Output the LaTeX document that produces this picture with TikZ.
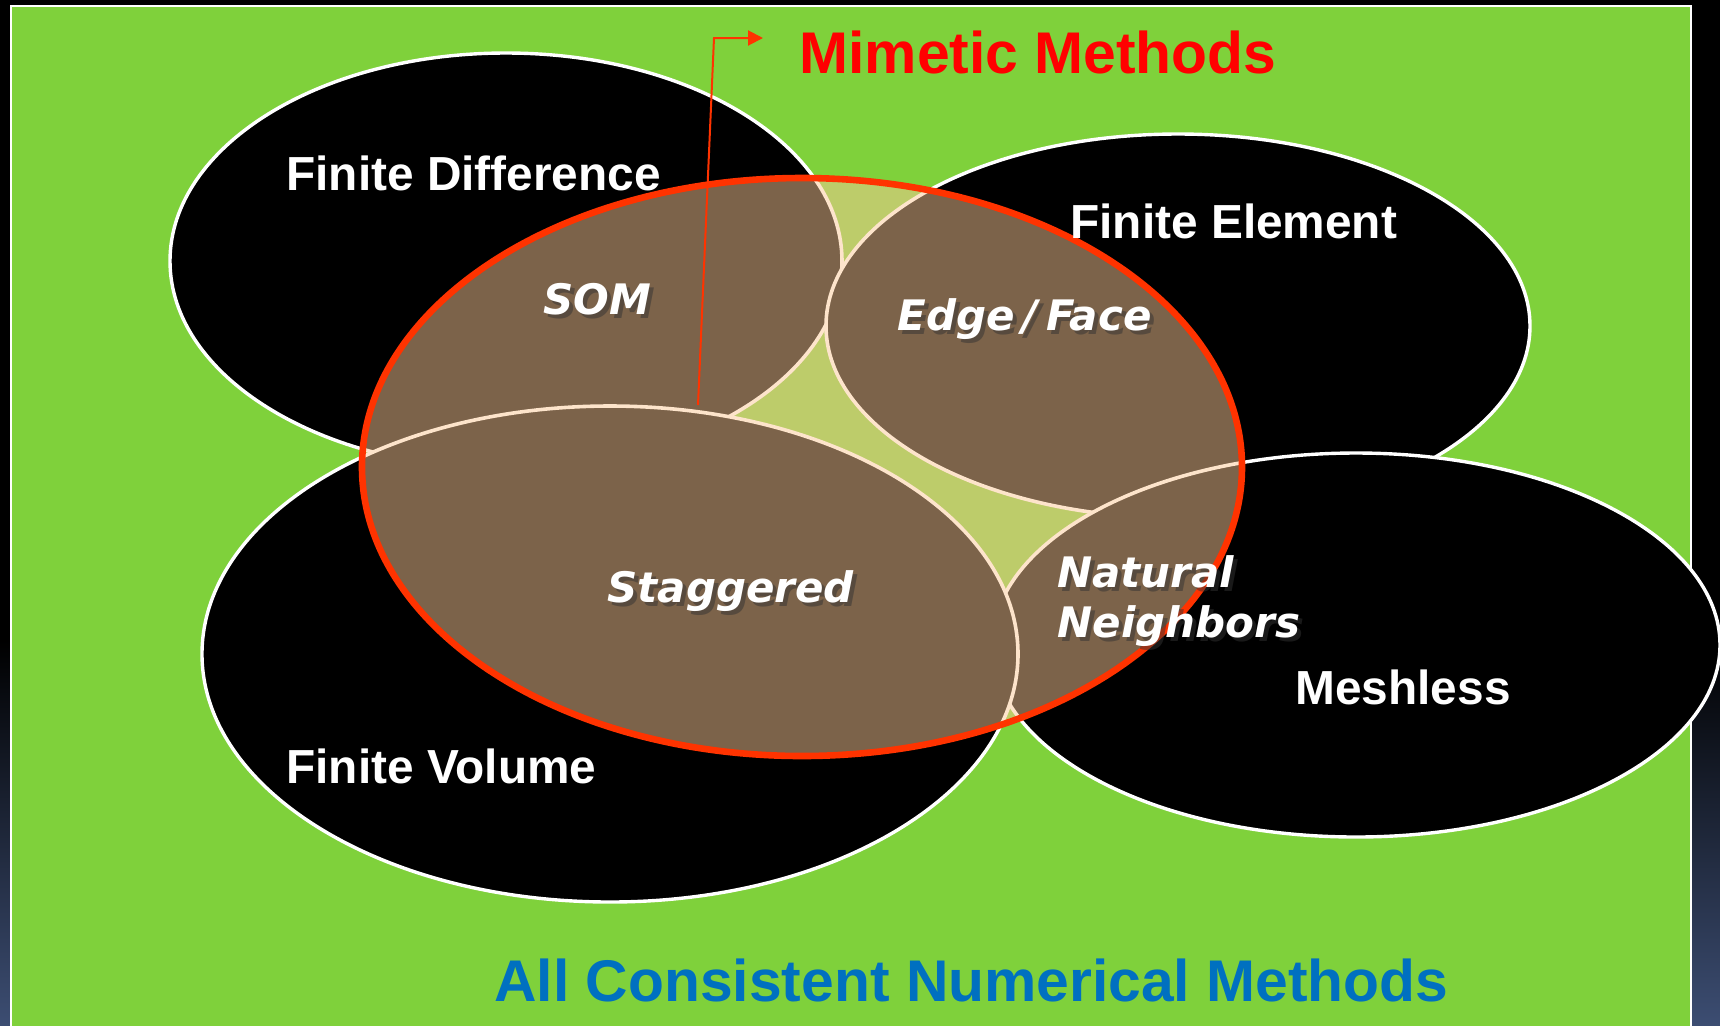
\documentclass[tikz,border=0pt]{standalone}
\usepackage{fontspec}
\setmainfont{Liberation Sans}
\newfontfamily\vfont{DejaVu Sans}
\usetikzlibrary{arrows.meta}
\definecolor{bggreen}{HTML}{7FD13B}
\definecolor{lightgreen}{HTML}{BDCC6A}
\definecolor{brownfill}{HTML}{7C634A}
\definecolor{creamline}{HTML}{FDE4CB}
\definecolor{mimred}{HTML}{FF3300}
\definecolor{titlered}{HTML}{FF0000}
\definecolor{titleblue}{HTML}{0070C0}
\definecolor{navy}{HTML}{3C4D72}
\begin{document}
\begin{tikzpicture}[x=0.5pt,y=-0.5pt,
  blackell/.style={fill=black, draw=white, line width=1.7pt},
  brownell/.style={fill=brownfill, draw=creamline, line width=1.8pt},
  biglabel/.style={font=\bfseries\fontsize{23.9}{28}\selectfont, text=white, anchor=base west, inner sep=0pt},
  titlelabel/.style={font=\bfseries\fontsize{29.4}{34}\selectfont, anchor=base west, inner sep=0pt},
  ilabel/.style={font=\vfont\bfseries\itshape\fontsize{21}{25}\selectfont, text=white, anchor=base west, inner sep=0pt},
  ishadow/.style={font=\vfont\bfseries\itshape\fontsize{21}{25}\selectfont, text=black!80, opacity=0.5, anchor=base west, inner sep=0pt},
  pointer/.style={draw=mimred, line width=1pt, -{Triangle[length=7.5pt, width=7.5pt]}}
]
\useasboundingbox (0,0) rectangle (1720,1025);
\clip (0,0) rectangle (1720,1025);
% background
\fill[black] (0,0) rectangle (1720,1025);
\shade[top color=black, bottom color=navy] (0,640) rectangle (1720,1025);
\filldraw[fill=bggreen, draw=white, line width=1pt] (10.5,5.5) rectangle (1690.5,1040);
% black ellipses (FD, FE, Meshless, FV)
\foreach \cx/\cy/\rx/\ry in {506/261/336/208, 1178/326/352/192, 1356/645/364/192, 610/654/408/248}{
  \path[blackell] (\cx,\cy) ellipse [x radius=\rx, y radius=\ry];
}
% mimetic region
\fill[lightgreen] (802,467) ellipse [x radius=440, y radius=289];
\begin{scope}
  \clip (802,467) ellipse [x radius=440, y radius=289];
  \foreach \cx/\cy/\rx/\ry in {506/261/336/208, 1178/326/352/192, 1356/645/364/192, 610/654/408/248}{
    \path[brownell] (\cx,\cy) ellipse [x radius=\rx, y radius=\ry];
  }
\end{scope}
\draw[mimred, line width=3.3pt] (802,467) ellipse [x radius=440, y radius=289];
% outer labels
\node[biglabel] (fd) at (286,190) {Finite Difference};
\node[biglabel] (fe) at (1070,238) {Finite Element};
\node[biglabel] (ml) at (1295,704) {Meshless};
\node[biglabel] (fv) at (286,783) {Finite Volume};
% inner labels with shadow
\node[ishadow] (somS) at (547,318) {SOM};
\node[ilabel] (som) at (543,314) {SOM};
\node[ishadow] (efS) at (901,334) {Edge\kern4pt/\kern4pt Face};
\node[ilabel] (ef) at (897,330) {Edge\kern4pt/\kern4pt Face};
\node[ishadow] (stS) at (611,606) {Staggered};
\node[ilabel] (st) at (607,602) {Staggered};
\node[ishadow] (natS) at (1061,591) {Natural};
\node[ilabel] (nat) at (1057,587) {Natural};
\node[ishadow] (neiS) at (1061,641) {Neighbors};
\node[ilabel] (nei) at (1057,637) {Neighbors};
% titles
\node[titlelabel, text=titlered] (mim) at (799,73) {Mimetic Methods};
\node[titlelabel, text=titleblue] (all) at (494,1001) {All Consistent Numerical Methods};
% pointer
\coordinate (arrStart) at (698,405);
\coordinate (arrBend) at (714,38);
\coordinate (arrTip) at (763,38);
\draw[pointer] (arrStart) -- (arrBend) -- (arrTip);
\end{tikzpicture}
\end{document}
